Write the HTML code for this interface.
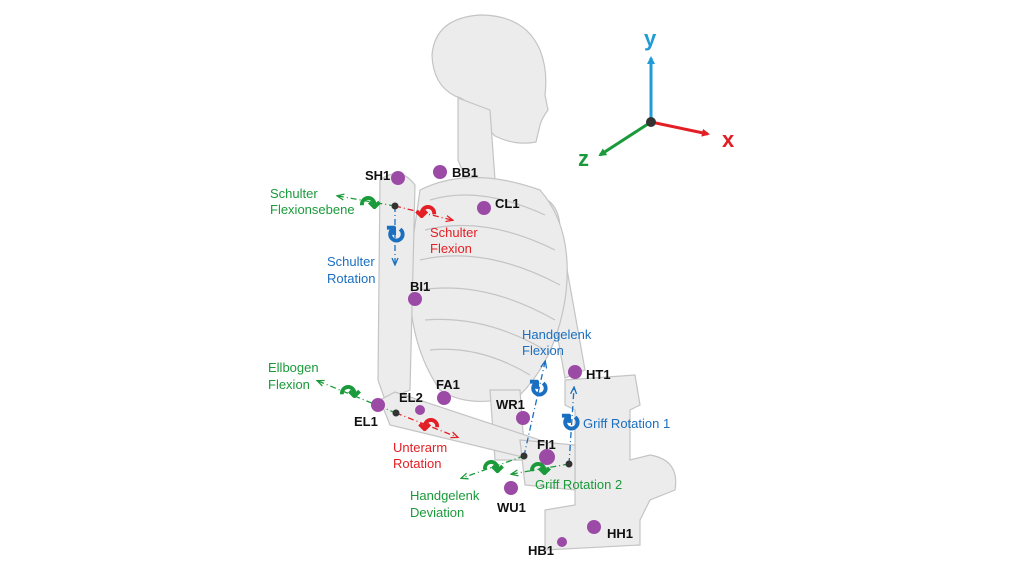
<!DOCTYPE html>
<html><head><meta charset="utf-8"><style>
html,body{margin:0;padding:0;background:#fff}
svg{display:block}
text{font-family:"Liberation Sans",Arial,sans-serif}
.b{font-weight:bold;font-size:13px;fill:#111}
.l{font-size:13px}
</style></head><body>
<svg width="1024" height="576" viewBox="0 0 1024 576" xmlns="http://www.w3.org/2000/svg">
<defs>
<marker id="ab" markerWidth="8" markerHeight="8" refX="6" refY="4" orient="auto" markerUnits="userSpaceOnUse"><path d="M0,0L8,4L0,8z" fill="#1f9bd7"/></marker>
<marker id="ar" markerWidth="8" markerHeight="8" refX="6" refY="4" orient="auto" markerUnits="userSpaceOnUse"><path d="M0,0L8,4L0,8z" fill="#e31e24"/></marker>
<marker id="ag" markerWidth="8" markerHeight="8" refX="6" refY="4" orient="auto" markerUnits="userSpaceOnUse"><path d="M0,0L8,4L0,8z" fill="#1a9a3a"/></marker>
<marker id="sb" markerWidth="8" markerHeight="8" refX="6" refY="4" orient="auto" markerUnits="userSpaceOnUse"><path d="M0,1L7,4L0,7" fill="none" stroke="#1a6fc0" stroke-width="1.3"/></marker>
<marker id="sr" markerWidth="8" markerHeight="8" refX="6" refY="4" orient="auto" markerUnits="userSpaceOnUse"><path d="M0,1L7,4L0,7" fill="none" stroke="#e31e24" stroke-width="1.3"/></marker>
<marker id="sg" markerWidth="8" markerHeight="8" refX="6" refY="4" orient="auto" markerUnits="userSpaceOnUse"><path d="M0,1L7,4L0,7" fill="none" stroke="#1a9a3a" stroke-width="1.3"/></marker>
</defs>
<g fill="#ececec" stroke="#c4c4c4" stroke-width="1.2">
<!-- skull -->
<path d="M432,55 Q435,18 480,15 Q525,15 540,50 Q548,70 545,95 L548,110 Q542,118 540,125 L536,142 Q515,146 495,136 L478,118 Q470,100 455,96 Q433,85 432,55z"/>
<!-- neck -->
<path d="M458,98 L490,110 L495,180 L470,190 L458,160z"/>
<!-- right arm (far side) -->
<path d="M535,195 Q560,200 560,230 L585,370 L565,378 L540,240z"/>
<!-- ribcage -->
<path d="M420,190 Q470,165 540,190 Q575,230 565,300 Q555,360 520,395 Q470,410 440,390 Q405,340 410,260z"/>
<path d="M430,200 Q480,185 545,215 M425,230 Q485,215 555,250 M420,260 Q485,245 560,285 M420,290 Q485,280 555,320 M425,320 Q485,315 545,350 M430,350 Q480,345 530,375" fill="none"/>
<!-- spine lower -->
<path d="M490,390 L520,390 L525,460 L495,460z"/>
<!-- upper arm -->
<path d="M380,180 Q400,165 415,185 L410,390 L385,400 L378,380z"/>
<!-- forearm -->
<path d="M380,400 L395,392 L540,440 L535,460 L390,425z"/>
<!-- device -->
<path d="M565,380 L635,375 L640,405 L630,410 L630,460 L650,455 Q680,460 675,490 L650,500 L640,520 L640,545 L545,550 L545,510 L575,505 L575,410 L565,405z"/>
<path d="M520,440 L575,445 L575,490 L525,485z"/>
</g>
<!-- axes -->
<line x1="651" y1="122" x2="651" y2="58" stroke="#1f9bd7" stroke-width="3" marker-end="url(#ab)"/>
<line x1="651" y1="122" x2="708" y2="134" stroke="#e31e24" stroke-width="3" marker-end="url(#ar)"/>
<line x1="651" y1="122" x2="600" y2="155" stroke="#1a9a3a" stroke-width="3" marker-end="url(#ag)"/>
<circle cx="651" cy="122" r="5" fill="#333"/>
<text x="644" y="46" font-size="22" font-weight="bold" fill="#1f9bd7">y</text>
<text x="722" y="147" font-size="22" font-weight="bold" fill="#e31e24">x</text>
<text x="578" y="166" font-size="22" font-weight="bold" fill="#1a9a3a">z</text>
<g stroke-width="1.3" fill="none" stroke-dasharray="6,3,1,3">
<line x1="395" y1="206" x2="338" y2="196" stroke="#1a9a3a" marker-end="url(#sg)"/>
<line x1="395" y1="206" x2="452" y2="220" stroke="#e31e24" marker-end="url(#sr)"/>
<line x1="395" y1="206" x2="395" y2="264" stroke="#1a6fc0" marker-end="url(#sb)"/>
<line x1="396" y1="413" x2="318" y2="381" stroke="#1a9a3a" marker-end="url(#sg)"/>
<line x1="396" y1="413" x2="457" y2="437" stroke="#e31e24" marker-end="url(#sr)"/>
<line x1="524" y1="456" x2="545" y2="362" stroke="#1a6fc0" marker-end="url(#sb)"/>
<line x1="524" y1="456" x2="462" y2="478" stroke="#1a9a3a" marker-end="url(#sg)"/>
<line x1="569" y1="464" x2="574" y2="388" stroke="#1a6fc0" marker-end="url(#sb)"/>
<line x1="569" y1="464" x2="512" y2="474" stroke="#1a9a3a" marker-end="url(#sg)"/>
</g>
<g fill="#333"><circle cx="395" cy="206" r="3.5"/><circle cx="396" cy="413" r="3.5"/><circle cx="524" cy="456" r="3.5"/><circle cx="569" cy="464" r="3.5"/></g>
<g font-size="24" font-weight="bold" text-anchor="middle" stroke-width="1" >
<text x="370" y="213" fill="#1a9a3a" stroke="#1a9a3a">↷</text>
<text x="426" y="222" fill="#e31e24" stroke="#e31e24">↶</text>
<text x="396" y="243" fill="#1a6fc0" stroke="#1a6fc0">↻</text>
<text x="350" y="402" fill="#1a9a3a" stroke="#1a9a3a">↷</text>
<text x="429" y="435" fill="#e31e24" stroke="#e31e24">↶</text>
<text x="539" y="397" fill="#1a6fc0" stroke="#1a6fc0">↻</text>
<text x="571" y="431" fill="#1a6fc0" stroke="#1a6fc0">↻</text>
<text x="493" y="477" fill="#1a9a3a" stroke="#1a9a3a">↷</text>
<text x="540" y="479" fill="#1a9a3a" stroke="#1a9a3a">↷</text>
</g>
<g fill="#9b4aa6">
<circle cx="398" cy="178" r="7"/><circle cx="440" cy="172" r="7"/><circle cx="484" cy="208" r="7"/>
<circle cx="415" cy="299" r="7"/><circle cx="444" cy="398" r="7"/><circle cx="420" cy="410" r="5"/>
<circle cx="378" cy="405" r="7"/><circle cx="523" cy="418" r="7"/><circle cx="575" cy="372" r="7"/>
<circle cx="547" cy="457" r="8"/><circle cx="511" cy="488" r="7"/><circle cx="594" cy="527" r="7"/>
<circle cx="562" cy="542" r="5"/>
</g>
<g class="b">
<text x="365" y="180">SH1</text><text x="452" y="177">BB1</text><text x="495" y="208">CL1</text>
<text x="410" y="291">BI1</text><text x="436" y="389">FA1</text><text x="399" y="402">EL2</text>
<text x="354" y="426">EL1</text><text x="496" y="409">WR1</text><text x="586" y="379">HT1</text>
<text x="537" y="449">FI1</text><text x="497" y="512">WU1</text><text x="607" y="538">HH1</text>
<text x="528" y="555">HB1</text>
</g>
<g class="l" fill="#1a9a3a">
<text x="270" y="198">Schulter</text><text x="270" y="214">Flexionsebene</text>
<text x="268" y="372">Ellbogen</text><text x="268" y="389">Flexion</text>
<text x="410" y="500">Handgelenk</text><text x="410" y="517">Deviation</text>
<text x="535" y="489">Griff Rotation 2</text>
</g>
<g class="l" fill="#e31e24">
<text x="430" y="237">Schulter</text><text x="430" y="253">Flexion</text>
<text x="393" y="452">Unterarm</text><text x="393" y="468">Rotation</text>
</g>
<g class="l" fill="#1a6fc0">
<text x="327" y="266">Schulter</text><text x="327" y="283">Rotation</text>
<text x="522" y="339">Handgelenk</text><text x="522" y="355">Flexion</text>
<text x="583" y="428">Griff Rotation 1</text>
</g>
</svg>
</body></html>
